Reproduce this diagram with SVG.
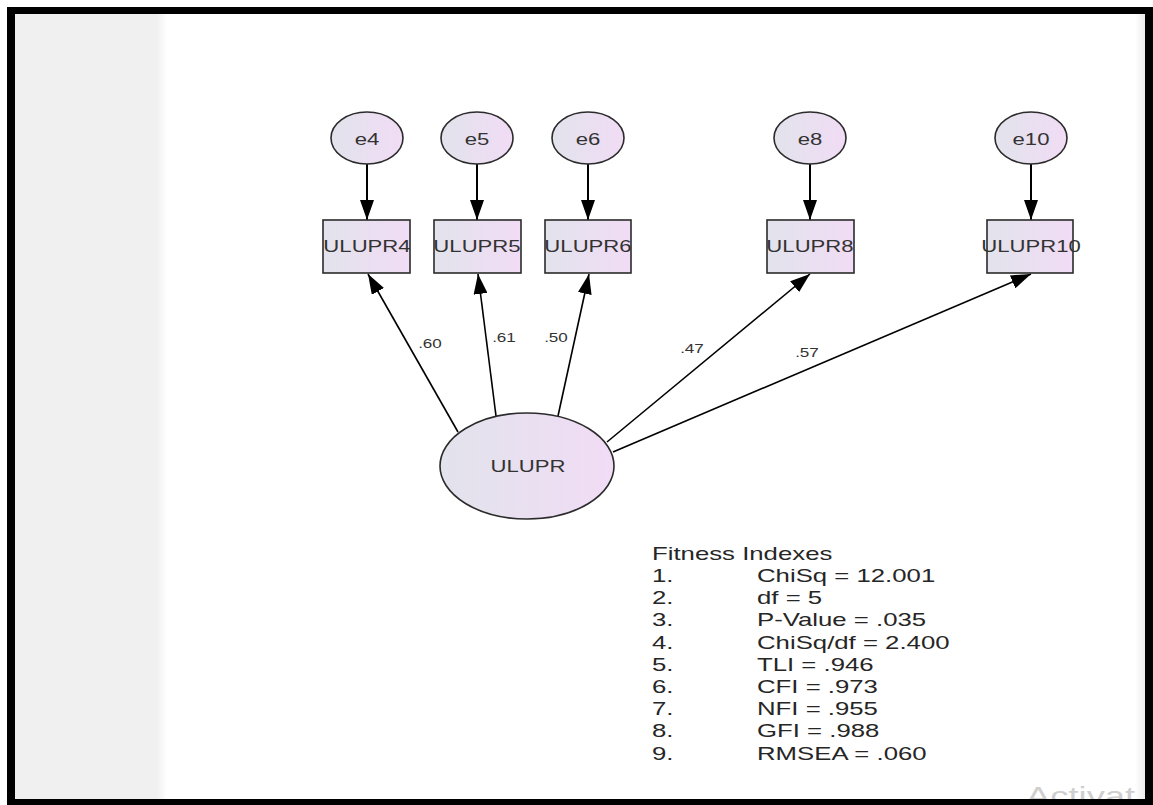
<svg xmlns="http://www.w3.org/2000/svg" width="1153" height="805" viewBox="0 0 1153 805">
  <defs>
    <linearGradient id="nodeFill" x1="0" y1="0" x2="1" y2="0">
      <stop offset="0" stop-color="#e2e3ec"/>
      <stop offset="1" stop-color="#f1dcf5"/>
    </linearGradient>
    <linearGradient id="panelEdge" x1="0" y1="0" x2="1" y2="0">
      <stop offset="0" stop-color="#f0f0f0"/>
      <stop offset="1" stop-color="#ffffff"/>
    </linearGradient>
    <linearGradient id="rightEdge" x1="0" y1="0" x2="1" y2="0">
      <stop offset="0" stop-color="#ffffff"/>
      <stop offset="1" stop-color="#ececec"/>
    </linearGradient>
    <marker id="arrow" viewBox="0 0 20 14" refX="20" refY="7" markerWidth="20" markerHeight="14" markerUnits="userSpaceOnUse" orient="auto">
      <path d="M0,0 L20,7 L0,14 z" fill="#000"/>
    </marker>
  </defs>
  <style>
    .shape { fill: url(#nodeFill); stroke: #2b2b2b; stroke-width: 1.6; }
    .lbl { font-family: "Liberation Sans", Arial, sans-serif; font-size: 15.8px; fill: #333; text-anchor: middle; }
    .coef { font-family: "Liberation Sans", Arial, sans-serif; font-size: 12.2px; fill: #333; text-anchor: middle; }
    .fit { font-family: "Liberation Sans", Arial, sans-serif; font-size: 18.4px; fill: #262626; }
    .conn { stroke: #000; fill: none; marker-end: url(#arrow); }
    .err { stroke-width: 2; }
    .load { stroke-width: 1.6; }
  </style>

  <!-- page background -->
  <rect x="0" y="0" width="1153" height="805" fill="#ffffff"/>
  <rect x="15" y="14" width="142" height="786" fill="#f0f0f0"/>
  <rect x="157" y="14" width="10" height="786" fill="url(#panelEdge)"/>
  <rect x="1135" y="14" width="10" height="786" fill="url(#rightEdge)"/>

  <!-- connectors -->
  <g id="connectors">
    <line class="conn err" x1="367" y1="164" x2="367" y2="220"/>
    <line class="conn err" x1="477" y1="164" x2="477" y2="220"/>
    <line class="conn err" x1="588" y1="164" x2="588" y2="220"/>
    <line class="conn err" x1="810" y1="164" x2="810" y2="220"/>
    <line class="conn err" x1="1031" y1="164" x2="1031" y2="220"/>

    <line class="conn load" x1="458" y1="432" x2="368" y2="274"/>
    <line class="conn load" x1="496" y1="416" x2="478" y2="274"/>
    <line class="conn load" x1="558" y1="416" x2="589" y2="274"/>
    <line class="conn load" x1="607" y1="442" x2="810" y2="274"/>
    <line class="conn load" x1="613" y1="452" x2="1031" y2="274"/>

    <text class="coef" transform="translate(430 348) scale(1.4 1)">.60</text>
    <text class="coef" transform="translate(504 342) scale(1.4 1)">.61</text>
    <text class="coef" transform="translate(556 342) scale(1.4 1)">.50</text>
    <text class="coef" transform="translate(692 353) scale(1.4 1)">.47</text>
    <text class="coef" transform="translate(807 357) scale(1.4 1)">.57</text>
  </g>

  <!-- error terms -->
  <g id="e4"><ellipse class="shape" cx="367" cy="138" rx="36" ry="26"/><text class="lbl" transform="translate(367 145) scale(1.4 1)">e4</text></g>
  <g id="e5"><ellipse class="shape" cx="477" cy="138" rx="36" ry="26"/><text class="lbl" transform="translate(477 145) scale(1.4 1)">e5</text></g>
  <g id="e6"><ellipse class="shape" cx="588" cy="138" rx="36" ry="26"/><text class="lbl" transform="translate(588 145) scale(1.4 1)">e6</text></g>
  <g id="e8"><ellipse class="shape" cx="810" cy="138" rx="36" ry="26"/><text class="lbl" transform="translate(810 145) scale(1.4 1)">e8</text></g>
  <g id="e10"><ellipse class="shape" cx="1031" cy="138" rx="36" ry="26"/><text class="lbl" transform="translate(1031 145) scale(1.4 1)">e10</text></g>

  <!-- observed indicators -->
  <g id="ULUPR4"><rect class="shape" x="323" y="220" width="87" height="53"/><text class="lbl" transform="translate(367 252) scale(1.4 1)">ULUPR4</text></g>
  <g id="ULUPR5"><rect class="shape" x="434" y="220" width="87" height="53"/><text class="lbl" transform="translate(477 252) scale(1.4 1)">ULUPR5</text></g>
  <g id="ULUPR6"><rect class="shape" x="545" y="220" width="86" height="53"/><text class="lbl" transform="translate(588 252) scale(1.4 1)">ULUPR6</text></g>
  <g id="ULUPR8"><rect class="shape" x="767" y="220" width="87" height="53"/><text class="lbl" transform="translate(810 252) scale(1.4 1)">ULUPR8</text></g>
  <g id="ULUPR10"><rect class="shape" x="987" y="220" width="86" height="53"/><text class="lbl" transform="translate(1031 252) scale(1.4 1)">ULUPR10</text></g>

  <!-- latent factor -->
  <g id="ULUPR"><ellipse class="shape" cx="527" cy="466" rx="87" ry="53"/><text class="lbl" transform="translate(528 472) scale(1.4 1)">ULUPR</text></g>

  <!-- fit statistics -->
  <g id="fitness">
    <text class="fit" transform="translate(652 560) scale(1.4 1)">Fitness Indexes</text>
    <text class="fit" transform="translate(652 582) scale(1.4 1)">1.</text>
    <text class="fit" transform="translate(757 582) scale(1.4 1)">ChiSq = 12.001</text>
    <text class="fit" transform="translate(652 604.2) scale(1.4 1)">2.</text>
    <text class="fit" transform="translate(757 604.2) scale(1.4 1)">df = 5</text>
    <text class="fit" transform="translate(652 626.4) scale(1.4 1)">3.</text>
    <text class="fit" transform="translate(757 626.4) scale(1.4 1)">P-Value = .035</text>
    <text class="fit" transform="translate(652 648.6) scale(1.4 1)">4.</text>
    <text class="fit" transform="translate(757 648.6) scale(1.4 1)">ChiSq/df = 2.400</text>
    <text class="fit" transform="translate(652 670.8) scale(1.4 1)">5.</text>
    <text class="fit" transform="translate(757 670.8) scale(1.4 1)">TLI = .946</text>
    <text class="fit" transform="translate(652 693) scale(1.4 1)">6.</text>
    <text class="fit" transform="translate(757 693) scale(1.4 1)">CFI = .973</text>
    <text class="fit" transform="translate(652 715.2) scale(1.4 1)">7.</text>
    <text class="fit" transform="translate(757 715.2) scale(1.4 1)">NFI = .955</text>
    <text class="fit" transform="translate(652 737.4) scale(1.4 1)">8.</text>
    <text class="fit" transform="translate(757 737.4) scale(1.4 1)">GFI = .988</text>
    <text class="fit" transform="translate(652 759.6) scale(1.4 1)">9.</text>
    <text class="fit" transform="translate(757 759.6) scale(1.4 1)">RMSEA = .060</text>
  </g>

  <!-- faint watermark, partly hidden by the frame -->
  <text transform="translate(1026 805) scale(1.4 1)" font-family="'Liberation Sans', Arial, sans-serif" font-size="26" fill="#cfcfcf">Activat</text>

  <!-- black frame -->
  <g id="frame" fill="#000">
    <rect x="7" y="7" width="1146" height="7"/>
    <rect x="7" y="7" width="8" height="798"/>
    <rect x="1145" y="7" width="8" height="798"/>
    <rect x="7" y="799" width="1146" height="6"/>
  </g>
</svg>
